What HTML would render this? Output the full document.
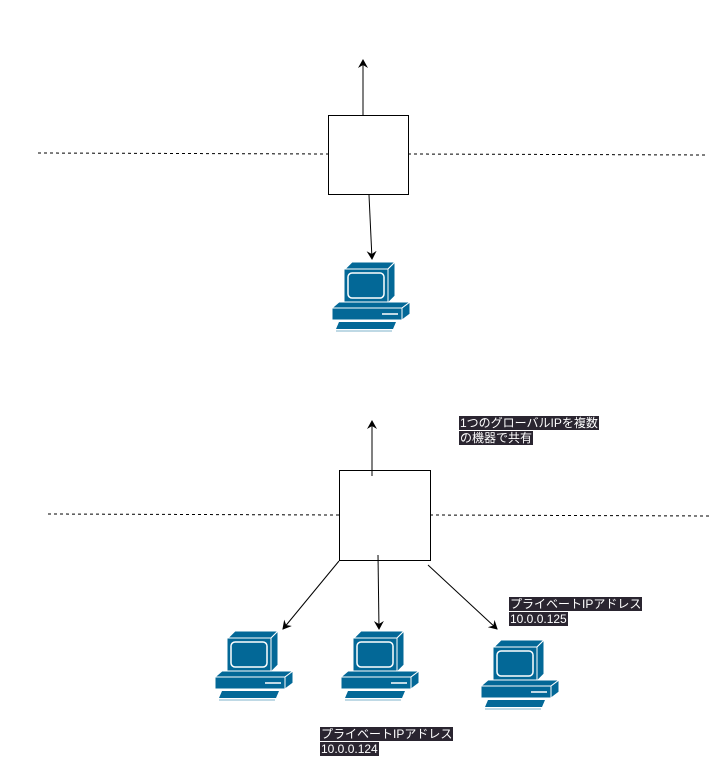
<!DOCTYPE html>
<html><head><meta charset="utf-8"><style>
body{margin:0;background:#fff;width:719px;height:771px;overflow:hidden;position:relative;font-family:"Liberation Sans","Noto Sans CJK JP",sans-serif}
.lbl{position:absolute;font-size:12px;line-height:15px;color:#fff}
.lbl span{background:#2a2530;padding:0 1px}
</style></head><body>
<svg width="719" height="771" style="position:absolute;left:0;top:0">
<defs>
<marker id="a" markerWidth="10" markerHeight="10" refX="8" refY="5" orient="auto" markerUnits="userSpaceOnUse"><path d="M0,0 L9,5 L0,10 L3,5 z" fill="#000"/></marker>
<g id="pc">
<polygon points="13,7 20,0 63,0 56,7" fill="#036897" stroke="#fff" stroke-width="1"/>
<polygon points="56,7 63,0 63,34 56,41" fill="#036897" stroke="#fff" stroke-width="1"/>
<rect x="12" y="7" width="44" height="34" fill="#036897" stroke="#fff" stroke-width="1"/>
<rect x="16" y="11" width="36" height="25" rx="4" fill="#036897" stroke="#fff" stroke-width="1.5"/>
<polygon points="0,46 7,40 78,40 70,46" fill="#036897" stroke="#fff" stroke-width="1"/>
<polygon points="70,46 78,40 78,52 70,58" fill="#036897" stroke="#fff" stroke-width="1"/>
<rect x="0" y="46" width="70" height="12" fill="#036897" stroke="#fff" stroke-width="1"/>
<line x1="50" y1="52" x2="66" y2="52" stroke="#fff" stroke-width="1.5"/>
<polygon points="7,60 64,60 61,67 4,67" fill="#036897"/>
<line x1="4" y1="69" x2="60" y2="69" stroke="#7fb3cb" stroke-width="1"/>
</g>
</defs>
<g stroke="#000" stroke-width="1" fill="none">
<line x1="38" y1="153" x2="328" y2="154" stroke-dasharray="3,3"/>
<line x1="408" y1="154" x2="706" y2="155" stroke-dasharray="3,3"/>
<rect x="328.5" y="115.5" width="80" height="79" fill="#fff"/>
<line x1="363" y1="115" x2="363" y2="60" marker-end="url(#a)"/>
<line x1="369" y1="195" x2="372" y2="259" marker-end="url(#a)"/>
<line x1="48" y1="514" x2="339" y2="515" stroke-dasharray="3,3"/>
<line x1="430" y1="515" x2="710" y2="516" stroke-dasharray="3,3"/>
<rect x="339.5" y="470.5" width="91" height="90" fill="#fff"/>
<line x1="372" y1="476" x2="372" y2="421" marker-end="url(#a)"/>
<line x1="339" y1="561" x2="283" y2="629" marker-end="url(#a)"/>
<line x1="378" y1="555" x2="379" y2="629" marker-end="url(#a)"/>
<line x1="428" y1="565" x2="497" y2="629" marker-end="url(#a)"/>
</g>
<use href="#pc" x="332" y="262"/>
<use href="#pc" x="215" y="631"/>
<use href="#pc" x="341" y="631"/>
<use href="#pc" x="481" y="640"/>
</svg>
<div class="lbl" style="left:459px;top:416px"><span>1つのグローバルIPを複数</span><br><span>の機器で共有</span></div>
<div class="lbl" style="left:509px;top:597px"><span>プライベートIPアドレス</span><br><span>10.0.0.125</span></div>
<div class="lbl" style="left:320px;top:727px"><span>プライベートIPアドレス</span><br><span>10.0.0.124</span></div>
</body></html>
